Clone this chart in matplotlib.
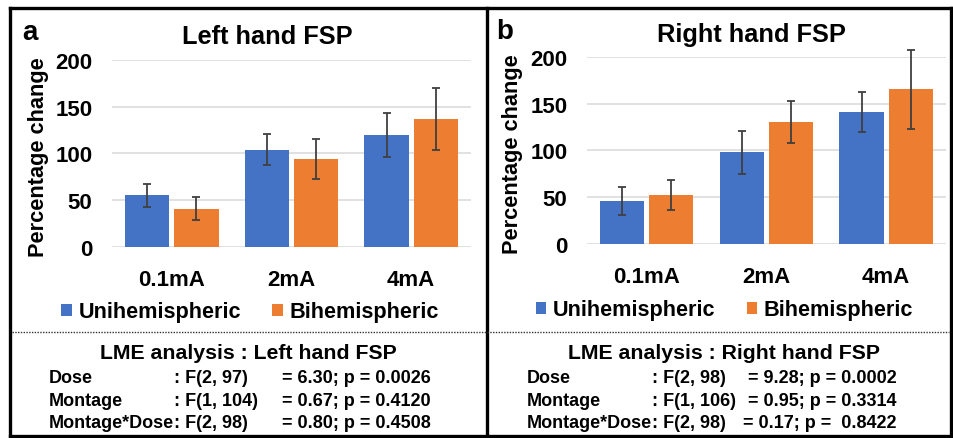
import matplotlib
matplotlib.use("Agg")
import matplotlib.pyplot as plt
from matplotlib.lines import Line2D
import numpy as np

# ---------------------------------------------------
# Data
# ---------------------------------------------------
doses = ["0.1mA", "2mA", "4mA"]
series_names = ["Unihemispheric", "Bihemispheric"]

left_uni = [55, 104, 120]
left_uni_err = [12, 16.5, 23.5]
left_bi = [41, 94, 137]
left_bi_err = [12, 21.5, 33]

right_uni = [46, 98, 141]
right_uni_err = [14.5, 23, 21]
right_bi = [52, 130, 165]
right_bi_err = [16, 22.5, 42]

y_ticks = [0, 50, 100, 150, 200]

left_lme = [("Dose", ": F(2, 97)", "= 6.30; p = 0.0026"),
            ("Montage", ": F(1, 104)", "= 0.67; p = 0.4120"),
            ("Montage*Dose", ": F(2, 98)", "= 0.80; p = 0.4508")]
right_lme = [("Dose", ": F(2, 98)", "= 9.28; p = 0.0002"),
             ("Montage", ": F(1, 106)", "= 0.95; p = 0.3314"),
             ("Montage*Dose", ": F(2, 98)", "= 0.17; p =  0.8422")]

BLUE = "#4472C4"
ORANGE = "#ED7D31"
FONT = "Liberation Sans"

W, H = 954, 439
plt.rcParams["font.family"] = [FONT, "DejaVu Sans"]
plt.rcParams["font.weight"] = "bold"

fig = plt.figure(figsize=(W / 100, H / 100), dpi=100)


def fx(px):
    return px / W


def fy(py):
    return 1 - py / H


def add_ax(x0, x1, y_top, y_bot):
    return fig.add_axes([fx(x0), fy(y_bot), fx(x1) - fx(x0), (y_bot - y_top) / H])


def draw_panel(ax, uni, uni_err, bi, bi_err):
    x = np.arange(len(doses))
    w = 0.37
    off = 0.205
    err_kw = dict(ecolor="#404040", elinewidth=1.3, capsize=2.8, capthick=1.3)
    bars = []
    bars.append(ax.bar(x - off, uni, w, color=BLUE, yerr=uni_err, error_kw=err_kw,
                       label=series_names[0], zorder=3))
    bars.append(ax.bar(x + off, bi, w, color=ORANGE, yerr=bi_err, error_kw=err_kw,
                       label=series_names[1], zorder=3))
    # error bars may stick out above the 200 line
    for b in bars:
        for art in b.errorbar.lines:
            if isinstance(art, tuple):
                for a in art:
                    a.set_clip_on(False)
            elif art is not None:
                art.set_clip_on(False)
    ax.set_xlim(-0.5, 2.5)
    ax.set_ylim(0, 200)
    ax.set_yticks(y_ticks)
    ax.set_xticks(x)
    ax.set_xticklabels(doses)
    ax.tick_params(axis="y", length=0, pad=14, labelsize=16)
    ax.tick_params(axis="x", length=0, pad=16, labelsize=16)
    for lab in ax.get_xticklabels() + ax.get_yticklabels():
        lab.set_fontweight("bold")
    for s in ax.spines.values():
        s.set_visible(False)
    ax.grid(axis="y", color="#d9d9d9", linewidth=1.1, zorder=0)
    ax.set_axisbelow(True)


# ---- left panel ----
axL = add_ax(112, 471, 60.7, 248)
draw_panel(axL, left_uni, left_uni_err, left_bi, left_bi_err)
fig.text(fx(267), fy(37), "Left hand FSP", fontsize=18.3, fontweight="bold",
         ha="center", va="center")
fig.text(fx(22), fy(33), "a", fontsize=20, fontweight="bold", ha="left", va="center")
fig.text(fx(38.5), fy(157), "Percentage change", fontsize=15.7, fontweight="bold",
         rotation=90, ha="center", va="center")

# ---- right panel ----
axR = add_ax(586.7, 946, 57.7, 245)
draw_panel(axR, right_uni, right_uni_err, right_bi, right_bi_err)
fig.text(fx(751), fy(35), "Right hand FSP", fontsize=18.3, fontweight="bold",
         ha="center", va="center")
fig.text(fx(496), fy(32), "b", fontsize=20, fontweight="bold", ha="left", va="center")
fig.text(fx(513), fy(154), "Percentage change", fontsize=15.7, fontweight="bold",
         rotation=90, ha="center", va="center")

# ---- legends ----
for ax, cx, cy in [(axL, 250, 313), (axR, 724.5, 311)]:
    leg = ax.legend(loc="center", bbox_to_anchor=(fx(cx), fy(cy)),
                    bbox_transform=fig.transFigure, ncol=2, frameon=False,
                    fontsize=15.6, handlelength=0.48, handleheight=0.48,
                    handletextpad=0.3, columnspacing=1.45, borderpad=0)
    for t in leg.get_texts():
        t.set_fontweight("bold")

# ---- LME tables ----
renderer = fig.canvas.get_renderer()


def lme_block(rows, title, cx, x0, xend):
    fig.text(fx(cx), fy(354), title, fontsize=15.3, fontweight="bold",
             ha="center", va="center")
    # colon column sits right after the longest label
    probe = fig.text(fx(x0), fy(379), "Montage*Dose", fontsize=13, fontweight="bold")
    xcol = probe.get_window_extent(renderer).x1
    probe.remove()
    for i, (lab, fpart, rest) in enumerate(rows):
        yy = fy(379 + 22.3 * i)
        fig.text(fx(x0), yy, lab, fontsize=13, fontweight="bold", ha="left", va="center")
        fig.text(xcol / W, yy, fpart, fontsize=13, fontweight="bold", ha="left", va="center")
        fig.text(fx(xend), yy, rest, fontsize=13, fontweight="bold", ha="right", va="center")


lme_block(left_lme, "LME analysis : Left hand FSP", 248, 49, 431)
lme_block(right_lme, "LME analysis : Right hand FSP", 724, 527, 897)

# ---- frame lines ----
frame_kw = dict(color="black", linewidth=2.4, transform=fig.transFigure)
fig.add_artist(Line2D([fx(10), fx(951)], [fy(8.5), fy(8.5)], **frame_kw))
fig.add_artist(Line2D([fx(10), fx(951)], [fy(436.5), fy(436.5)], **frame_kw))
fig.add_artist(Line2D([fx(10), fx(10)], [fy(8.5), fy(436.5)], **frame_kw))
fig.add_artist(Line2D([fx(951), fx(951)], [fy(8.5), fy(436.5)], **frame_kw))
fig.add_artist(Line2D([fx(487), fx(487)], [fy(8.5), fy(436.5)], **frame_kw))
fig.add_artist(Line2D([fx(12), fx(949)], [fy(333), fy(333)], color="#333333",
                      linewidth=1.0, linestyle=(0, (1, 1)), transform=fig.transFigure))

fig.savefig("out.png", dpi=100)
